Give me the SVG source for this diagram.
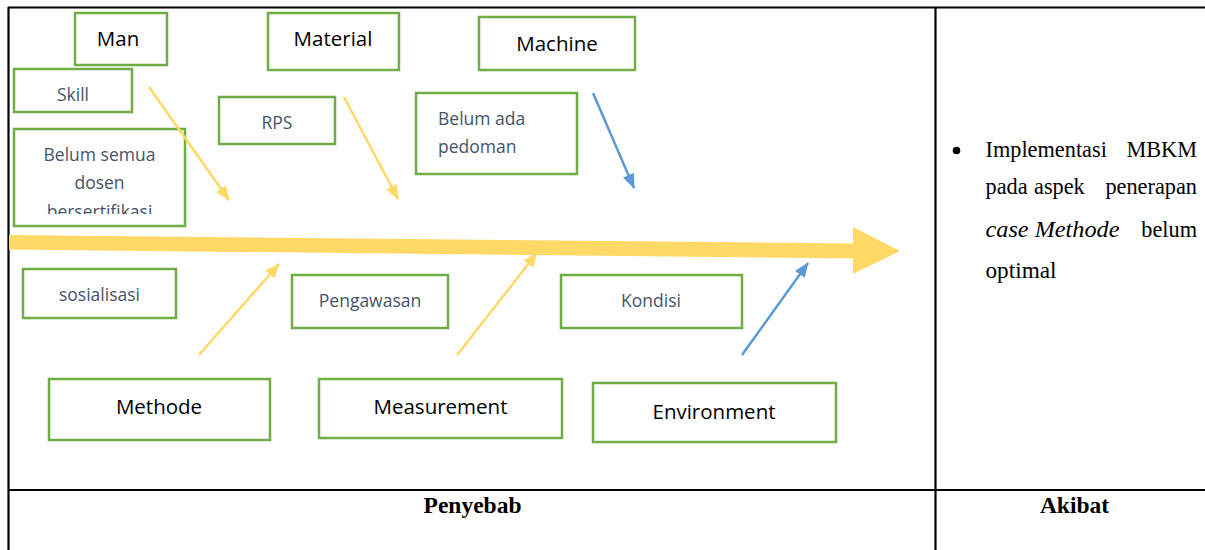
<svg xmlns="http://www.w3.org/2000/svg" width="1205" height="550" viewBox="0 0 1205 550">
<style>
.box{fill:#fff;stroke:#70AD47;stroke-width:2.5}
.main{font-family:"Open Sans","Noto Sans",sans-serif;font-size:20.5px;fill:#000;text-anchor:middle}
.sub{font-family:"Open Sans","Noto Sans",sans-serif;font-size:17.5px;fill:#44546A;text-anchor:middle}
.grid{stroke:#000;stroke-width:2.2;fill:none}
.ya{stroke:#FFD966;stroke-width:2.5;fill:none;marker-end:url(#hy)}
.ba{stroke:#5B9BD5;stroke-width:2.5;fill:none;marker-end:url(#hb)}
.tnr{font-family:"Liberation Serif","Times New Roman",serif;font-size:22.3px;fill:#000}
.hd{font-family:"Liberation Serif","Times New Roman",serif;font-size:23.5px;font-weight:bold;fill:#000;text-anchor:middle}
</style>
<defs>
<marker id="hy" viewBox="0 0 15 12" refX="14" refY="6" markerWidth="15" markerHeight="12" markerUnits="userSpaceOnUse" orient="auto"><path d="M0,0 L15,6 L0,12 Z" fill="#FFD966"/></marker>
<marker id="hb" viewBox="0 0 15 12" refX="14" refY="6" markerWidth="15" markerHeight="12" markerUnits="userSpaceOnUse" orient="auto"><path d="M0,0 L15,6 L0,12 Z" fill="#5B9BD5"/></marker>
<clipPath id="clipBelum"><rect x="14" y="129" width="171" height="85"/></clipPath>
</defs>
<rect width="1205" height="550" fill="#fff"/>
<g id="table">
<line class="grid" x1="8" y1="7.5" x2="1205" y2="7.5"/>
<line class="grid" x1="8.5" y1="7" x2="8.5" y2="550"/>
<line class="grid" x1="935.5" y1="7" x2="935.5" y2="550"/>
<line class="grid" x1="8" y1="490" x2="1205" y2="490"/>
</g>
<g id="spine">
<polygon points="9,235 853,243.5 853,227 900,251 853,274 853,258.5 9,249.5" fill="#FFD966"/>
</g>
<g id="man"><rect class="box" x="75" y="13" width="92" height="52"/><text class="main" x="118" y="45.5">Man</text></g>
<g id="material"><rect class="box" x="268" y="13" width="131" height="57"/><text class="main" x="333" y="46">Material</text></g>
<g id="machine"><rect class="box" x="479" y="17" width="156" height="53"/><text class="main" x="557" y="50.5">Machine</text></g>
<g id="skill"><rect class="box" x="14" y="69" width="118" height="43"/><text class="sub" x="73" y="100.5">Skill</text></g>
<g id="belum-semua"><rect class="box" x="14" y="129" width="171" height="97"/>
<text class="sub" clip-path="url(#clipBelum)"><tspan x="99.5" y="160.5">Belum semua</tspan><tspan x="99.5" y="189">dosen</tspan><tspan x="99.5" y="217.5">bersertifikasi</tspan></text></g>
<g id="rps"><rect class="box" x="219" y="97" width="116" height="47"/><text class="sub" x="277" y="128.5">RPS</text></g>
<g id="belum-ada"><rect class="box" x="416" y="93" width="161" height="81"/>
<text class="sub" style="text-anchor:start"><tspan x="438" y="124.5">Belum ada</tspan><tspan x="438" y="152.5">pedoman</tspan></text></g>
<g id="sosialisasi"><rect class="box" x="23" y="269" width="153" height="49"/><text class="sub" x="99.5" y="300.5">sosialisasi</text></g>
<g id="pengawasan"><rect class="box" x="292" y="275" width="156" height="53"/><text class="sub" x="370" y="307">Pengawasan</text></g>
<g id="kondisi"><rect class="box" x="561" y="275" width="181" height="53"/><text class="sub" x="651" y="307">Kondisi</text></g>
<g id="methode"><rect class="box" x="49" y="379" width="221" height="61"/><text class="main" x="159" y="413.5">Methode</text></g>
<g id="measurement"><rect class="box" x="319" y="379" width="243" height="59"/><text class="main" x="440.5" y="414">Measurement</text></g>
<g id="environment"><rect class="box" x="593" y="383" width="243" height="59"/><text class="main" x="714" y="418.5">Environment</text></g>
<g id="connectors">
<line class="ya" x1="149" y1="87" x2="229" y2="200"/>
<line class="ya" x1="344" y1="97" x2="398" y2="199"/>
<line class="ba" x1="593" y1="93" x2="634" y2="188"/>
<line class="ya" x1="199" y1="355" x2="279" y2="264"/>
<line class="ya" x1="457" y1="355" x2="537" y2="253"/>
<line class="ba" x1="742" y1="355" x2="808" y2="263"/>
</g>
<g id="akibat-text">
<circle cx="956.5" cy="150.5" r="3.8" fill="#000"/>
<text class="tnr"><tspan x="985.5" y="156.5">Implementasi</tspan><tspan x="1197" y="156.5" text-anchor="end">MBKM</tspan></text>
<text class="tnr"><tspan x="985.5" y="194">pada</tspan><tspan x="1034" y="194">aspek</tspan><tspan x="1197" y="194" text-anchor="end">penerapan</tspan></text>
<text class="tnr" x="985.5" y="236.5" font-style="italic" textLength="134" lengthAdjust="spacingAndGlyphs">case Methode</text>
<text class="tnr" x="1197" y="236.5" text-anchor="end">belum</text>
<text class="tnr" x="985.5" y="278" textLength="71" lengthAdjust="spacingAndGlyphs">optimal</text>
</g>
<g id="headers">
<text class="hd" x="472.5" y="513">Penyebab</text>
<text class="hd" x="1074.5" y="513">Akibat</text>
</g>
</svg>
